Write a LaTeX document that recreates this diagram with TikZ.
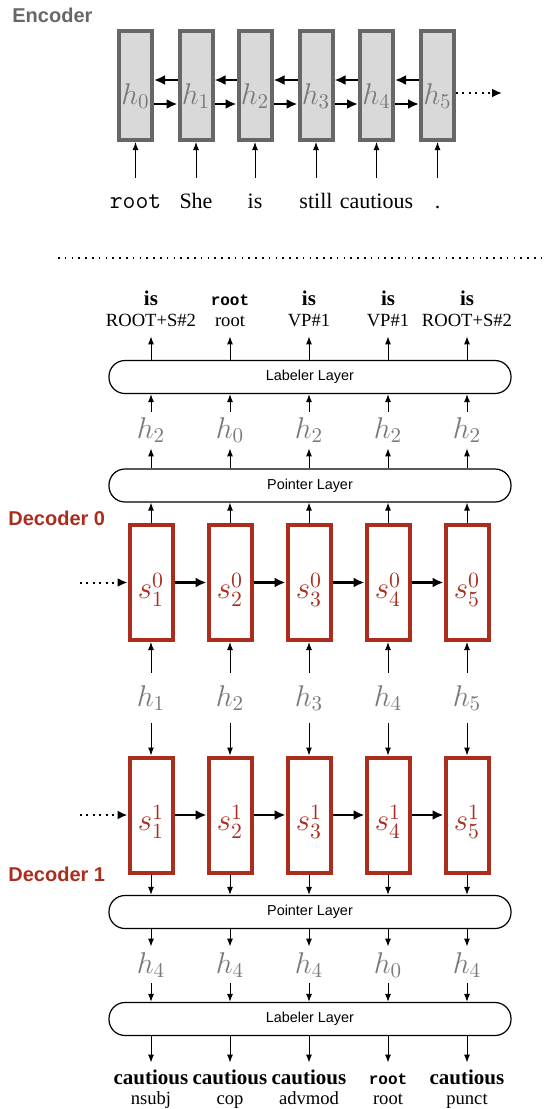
\RequirePackage{fix-cm}
\documentclass[tikz,border=0pt]{standalone}
\usepackage{fontspec}
\setmainfont{Liberation Serif}
\setsansfont{Liberation Sans}
\setmonofont{Liberation Mono}
\newfontfamily\lightmono{Latin Modern Mono}
\usetikzlibrary{arrows.meta, positioning, calc}
\definecolor{encgray}{HTML}{676767}
\definecolor{encfill}{HTML}{D9D9D9}
\definecolor{hgray}{HTML}{7A7A7A}
\definecolor{decred}{HTML}{AA2D1E}

\tikzset{
  encbox/.style={draw=encgray, fill=encfill, line width=2pt, minimum width=16.5pt, minimum height=54.5pt, inner sep=0pt},
  decbox/.style={draw=decred, fill=white, line width=2pt, minimum width=21.5pt, minimum height=57.5pt, inner sep=0pt},
  layerbox/.style={draw, line width=0.6pt, rounded corners=8pt, minimum width=201pt, minimum height=16.5pt, inner sep=0pt, font=\fontsize{7.2}{7.2}\selectfont\sffamily},
  hlab/.style={text=hgray, font=\fontsize{15}{15}\selectfont, inner sep=0pt},
  slab/.style={text=decred, font=\fontsize{15.5}{15.5}\selectfont, inner sep=0pt},
  thinarr/.style={-{Latex[length=4pt,width=3pt]}, line width=0.5pt},
  thickarr/.style={-{Latex[length=5.5pt,width=5pt]}, line width=1.3pt},
  dotarr/.style={-{Latex[length=5pt,width=4.5pt]}, line width=1pt, dash pattern=on 1pt off 2.2pt},
  title/.style={font=\fontsize{10}{10}\selectfont\sffamily\bfseries, anchor=west, inner sep=0pt},
  word/.style={font=\fontsize{11}{11}\selectfont, anchor=base, text height=8pt, text depth=2pt, inner sep=2pt},
  headw/.style={font=\fontsize{10.5}{10.5}\selectfont\bfseries, anchor=base, text height=7.5pt, text depth=2pt, inner sep=3pt},
  tagw/.style={font=\fontsize{9.3}{9.3}\selectfont, anchor=base, text height=7pt, text depth=2pt, inner sep=3pt}
}
\newcommand{\ttroot}{{\fontsize{8}{8}\selectfont\ttfamily\bfseries root}}

\begin{document}
\begin{tikzpicture}[x=0.5pt, y=-0.5pt]
  \useasboundingbox (0,0) rectangle (547,1109);

  % Encoder
  \node[title, text=encgray] (enc) at (12,15) {Encoder};
  \foreach \i/\x/\w in {0/135.5/{\fontsize{12.5}{12.5}\selectfont\lightmono root}, 1/196/She, 2/255/is, 3/316/still, 4/376.5/cautious, 5/437.5/.} {
    \node[encbox] (e\i) at (\x,85.5) {};
    \node[hlab] (eh\i) at (\x,96) {$h_{\i}$};
    \node[word] (w\i) at (\x,208) {\w};
    \draw[thinarr, shorten <=5pt] (w\i.north) -- (e\i.south);
  }
  \foreach \i [count=\j from 1] in {0,...,4} {
    \draw[thickarr] ([yshift=2.75pt]e\j.west) -- ([yshift=2.75pt]e\i.east);
    \draw[thickarr] ([yshift=-9.25pt]e\i.east) -- ([yshift=-9.25pt]e\j.west);
  }
  \coordinate (edots) at (502,93);
  \draw[dotarr] (e5.east |- edots) -- (edots);

  % Separator
  \draw[line width=0.8pt, dash pattern=on 0.8pt off 2.6pt] (58,258) -- (547,258);

  % Layers
  \node[layerbox] (lab0) at (310,377) {Labeler Layer};
  \node[layerbox] (ptr0) at (310,485.5) {Pointer Layer};
  \node[layerbox] (ptr1) at (310,912) {Pointer Layer};
  \node[layerbox] (lab1) at (310,1019) {Labeler Layer};

  % Decoder 0 and Decoder 1
  \node[title, text=decred] (dec0) at (8,518) {Decoder 0};
  \node[title, text=decred] (dec1) at (8,874) {Decoder 1};
  \foreach \i/\x/\hp/\hb in {1/151/2/4, 2/230/0/4, 3/309/2/4, 4/388/2/0, 5/467/2/4} {
    \node[decbox] (s0-\i) at (\x,582.5) {};
    \node[slab] at (\x,590) {$s^{0}_{\i}$};
    \node[decbox] (s1-\i) at (\x,815) {};
    \node[slab] at (\x,822) {$s^{1}_{\i}$};
    % pointer results
    \node[hlab, minimum height=18pt] (hp\i) at (\x,430) {$h_{\hp}$};
    \node[hlab, minimum height=25pt] (hm\i) at (\x,698) {$h_{\i}$};
    \node[hlab, minimum height=18pt] (hb\i) at (\x,965) {$h_{\hb}$};
    \draw[thinarr] (s0-\i.north) -- (ptr0.south -| s0-\i);
    \draw[thinarr] (ptr0.north -| hp\i) -- (hp\i.south);
    \draw[thinarr] (hp\i.north) -- (lab0.south -| hp\i);
    \draw[thinarr] (hm\i.north) -- (s0-\i.south);
    \draw[thinarr] (hm\i.south) -- (s1-\i.north);
    \draw[thinarr] (s1-\i.south) -- (ptr1.north -| s1-\i);
    \draw[thinarr] (ptr1.south -| hb\i) -- (hb\i.north);
    \draw[thinarr] (hb\i.south) -- (lab1.north -| hb\i);
  }
  \foreach \i [count=\j from 2] in {1,...,4} {
    \draw[thickarr] (s0-\i.east) -- (s0-\j.west);
    \draw[thickarr] (s1-\i.east) -- (s1-\j.west);
  }
  \coordinate (d0dots) at (80,582.5);
  \coordinate (d1dots) at (80,815);
  \draw[dotarr] (d0dots) -- (s0-1.west);
  \draw[dotarr] (d1dots) -- (s1-1.west);

  % Outputs
  \foreach \i/\x/\hw/\tg in {1/151/is/{ROOT+S\#2}, 2/230/\ttroot/root, 3/309/is/{VP\#1}, 4/388/is/{VP\#1}, 5/467/is/{ROOT+S\#2}} {
    \node[headw] (tw\i) at (\x,305) {\hw};
    \node[tagw] (tt\i) at (\x,326) {\tg};
    \draw[thinarr] (lab0.north -| tt\i) -- (tt\i.south);
  }
  \foreach \i/\x/\hw/\tg in {1/151/cautious/nsubj, 2/230/cautious/cop, 3/309/cautious/advmod, 4/388/\ttroot/root, 5/467/cautious/punct} {
    \node[headw] (bw\i) at (\x,1084) {\hw};
    \node[tagw] (bt\i) at (\x,1104) {\tg};
    \draw[thinarr] (lab1.south -| bw\i) -- (bw\i.north);
  }
\end{tikzpicture}
\end{document}
